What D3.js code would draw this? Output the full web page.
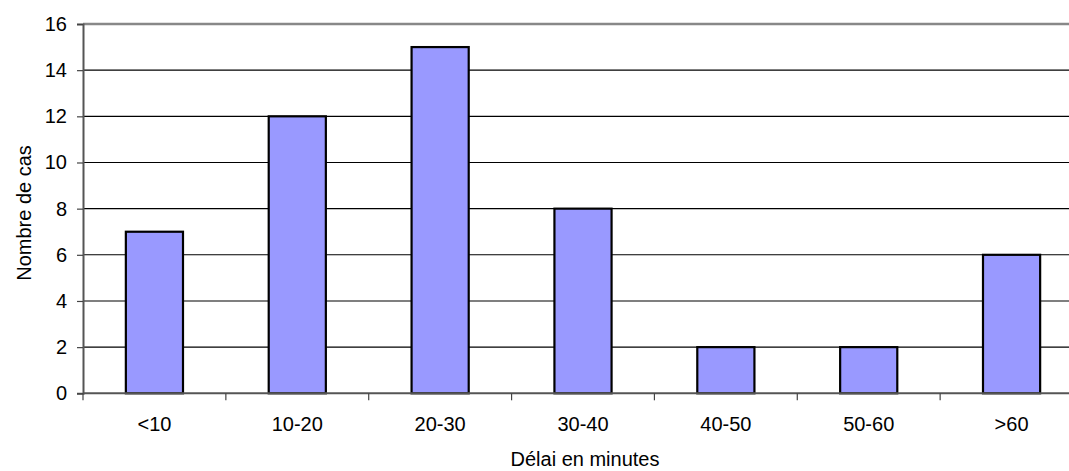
<!DOCTYPE html>
<html><head><meta charset="utf-8">
<script src="https://cdn.jsdelivr.net/npm/d3@7"></script>
<style>html,body{margin:0;padding:0;background:#fff;overflow:hidden}text{font-family:"Liberation Sans",Arial,sans-serif;fill:#000}</style>
</head><body>
<svg id="c" width="1069" height="471"></svg>
<script>
const categories = ["<10","10-20","20-30","30-40","40-50","50-60",">60"];
const values = [7,12,15,8,2,2,6];
const yTicks = [0,2,4,6,8,10,12,14,16];
const xTitle = "Délai en minutes";
const yTitle = "Nombre de cas";

const svg = d3.select("#c");
const L = 83, R = 1083, T = 24, B = 393.3;
const FS = 20;
const x = d3.scaleBand().domain(categories).range([L, R]).paddingInner(0.6).paddingOuter(0.3);
const y = d3.scaleLinear().domain([0,16]).range([B, T]);

// gridlines
svg.append("g").selectAll("line").data(yTicks.filter(d => d > 0 && d < 16)).join("line")
  .attr("x1", L).attr("x2", R).attr("y1", d => y(d)).attr("y2", d => y(d))
  .attr("stroke", "#000").attr("stroke-width", 1.1);
// top border
svg.append("line").attr("x1", L).attr("x2", R).attr("y1", y(16)).attr("y2", y(16))
  .attr("stroke", "#888").attr("stroke-width", 2.5);

// bars
svg.append("g").selectAll("rect").data(values).join("rect")
  .attr("x", (d,i) => x(categories[i])).attr("width", x.bandwidth())
  .attr("y", d => y(d)).attr("height", d => y(0) - y(d))
  .attr("fill", "#9999FF").attr("stroke", "#000").attr("stroke-width", 2.2);

// y axis
const ya = d3.axisLeft(y).tickValues(yTicks).tickSize(6).tickPadding(10).tickFormat(d3.format("d"));
const gy = svg.append("g").attr("transform", `translate(${L},0)`).call(ya);
gy.select(".domain").attr("stroke", "#555").attr("stroke-width", 2);
gy.selectAll(".tick line").attr("stroke", "#444").attr("stroke-width", 1.2);
gy.selectAll("text").attr("font-size", FS).attr("font-family", "Liberation Sans, Arial, sans-serif");

// x axis (ticks at category boundaries)
const step = x.step();
const bounds = d3.range(categories.length + 1).map(i => L + i * step);
const gx = svg.append("g");
gx.append("line").attr("x1", L).attr("x2", R).attr("y1", B).attr("y2", B)
  .attr("stroke", "#555").attr("stroke-width", 2);
gx.selectAll("line.t").data(bounds).join("line").attr("class","t")
  .attr("x1", d => d).attr("x2", d => d).attr("y1", B).attr("y2", B + 7)
  .attr("stroke", "#444").attr("stroke-width", 1.2);
gx.selectAll("text").data(categories).join("text")
  .attr("x", d => x(d) + x.bandwidth()/2).attr("y", 431)
  .attr("text-anchor", "middle").attr("font-size", FS).text(d => d);

// titles
svg.append("text").attr("x", 585).attr("y", 466).attr("text-anchor","middle")
  .attr("font-size", FS).text(xTitle);
svg.append("text").attr("transform", "translate(31,213) rotate(-90)").attr("text-anchor","middle")
  .attr("font-size", FS).text(yTitle);
</script>
</body></html>
